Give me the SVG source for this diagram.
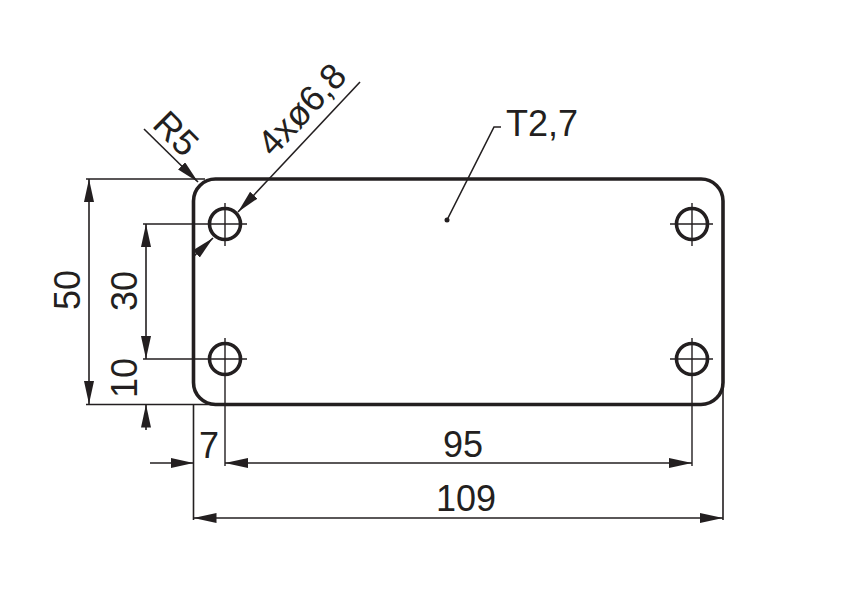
<svg xmlns="http://www.w3.org/2000/svg" width="844" height="604" viewBox="0 0 844 604">
<defs>
<marker id="ah" markerUnits="userSpaceOnUse" markerWidth="24" markerHeight="12" refX="23" refY="5" orient="auto-start-reverse"><path d="M0 0L23 5L0 10Z" fill="#231f20"/></marker>
</defs>
<style>
.t{font-family:"Liberation Sans",Arial,sans-serif;font-size:36px;fill:#231f20}
.d{fill:none;stroke:#231f20;stroke-width:1.6}
.o{fill:none;stroke:#231f20;stroke-width:3.6}
.c{fill:none;stroke:#231f20;stroke-width:1.4}
</style>
<rect width="844" height="604" fill="#fff"/>
<g id="plate">
<rect class="o" x="193.500" y="179" width="529.500" height="225.500" rx="22" ry="22"/>
</g>
<g id="holes">
<g id="hole-tl"><circle class="o" cx="225" cy="224" r="15.500"/><path class="c" d="M143 224H247M225 203V246"/></g>
<g id="hole-tr"><circle class="o" cx="692" cy="224" r="15.500"/><path class="c" d="M670 224H713M692 203V246"/></g>
<g id="hole-bl"><circle class="o" cx="225" cy="359" r="15.500"/><path class="c" d="M143 359H247M225 338V466"/></g>
<g id="hole-br"><circle class="o" cx="692" cy="359" r="15.500"/><path class="c" d="M670 359H713M692 338V466"/></g>
</g>
<g id="connectors">
<path class="d" d="M86 179H205M86 404.500H215M193.500 404V520M723 388V520"/>
<path class="d" d="M89 179V404" marker-start="url(#ah)" marker-end="url(#ah)"/>
<path class="d" d="M146 224V359" marker-start="url(#ah)" marker-end="url(#ah)"/>
<path class="d" d="M146 404.500V430" marker-start="url(#ah)"/>
<path class="d" d="M150 463H193.500" marker-end="url(#ah)"/>
<path class="d" d="M225 463H692" marker-start="url(#ah)" marker-end="url(#ah)"/>
<path class="d" d="M193.500 518H723" marker-start="url(#ah)" marker-end="url(#ah)"/>
<path class="d" d="M144 129L198 182" marker-end="url(#ah)"/>
<path class="d" d="M360 82L238 212" marker-end="url(#ah)"/>
<path class="d" d="M213 238L193 257" marker-start="url(#ah)"/>
<path class="d" d="M447 220L494 127H501"/>
<circle cx="447" cy="220" r="2.500" fill="#231f20"/>
</g>
<g id="labels">
<text class="t" x="506" y="136">T2,7</text>
<text class="t" x="463" y="457" text-anchor="middle">95</text>
<text class="t" x="466" y="511" text-anchor="middle">109</text>
<text class="t" x="209" y="458" text-anchor="middle">7</text>
<text class="t" transform="translate(80 290) rotate(-90)" text-anchor="middle">50</text>
<text class="t" transform="translate(137 291) rotate(-90)" text-anchor="middle">30</text>
<text class="t" transform="translate(137 378) rotate(-90)" text-anchor="middle">10</text>
<text class="t" transform="translate(151 126) rotate(45)">R5</text>
<text class="t" transform="translate(273 158) rotate(-46.800)">4xø6,8</text>
</g>
</svg>
